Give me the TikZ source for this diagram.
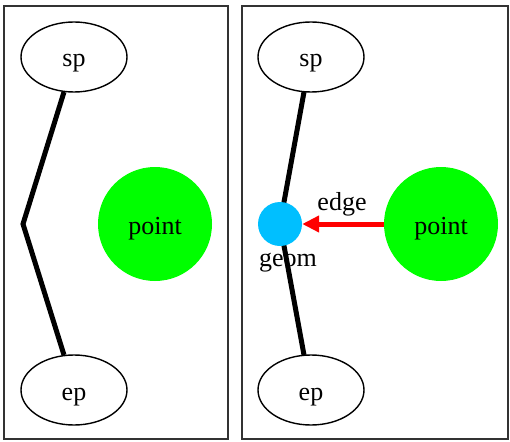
\documentclass[tikz,border=0pt]{standalone}
\usepackage{fontspec}
\setmainfont{Liberation Serif}
\usetikzlibrary{arrows.meta,shapes.geometric}
\definecolor{ptgreen}{RGB}{0,255,0}
\definecolor{geomblue}{RGB}{0,191,255}
\newcommand{\lowtxt}[1]{\raisebox{-10pt}[0pt][0pt]{#1}}
\begin{document}
\begin{tikzpicture}[x=1pt,y=-1pt,
  panel/.style={draw=black!80,line width=1.5pt},
  endpt/.style={draw,ellipse,line width=1.4pt,minimum width=106pt,minimum height=70pt,inner sep=0pt},
  pointnode/.style={circle,fill=ptgreen,minimum size=114pt,inner sep=0pt},
  geomnode/.style={circle,fill=geomblue,minimum size=44pt,inner sep=0pt},
  seg/.style={line width=5pt},
  lbl/.style={anchor=base,inner sep=0pt},
  every node/.append style={font=\fontsize{26}{30}\selectfont}]
\useasboundingbox (0,0) rectangle (510,441);
\draw[panel] (4,6) rectangle (228,439);
\draw[panel] (242,6) rectangle (508,439);
% left panel
\node[endpt] (spL) at (74,57) {\lowtxt{sp}};
\node[endpt] (epL) at (74,390) {\lowtxt{ep}};
\coordinate (bendL) at (23,224);
\node[pointnode] (ptL) at (155,224) {\lowtxt{point}};
\draw[seg,line join=miter] (64,92) -- (bendL) -- (64,355);
% right panel
\node[endpt] (spR) at (311,57) {\lowtxt{sp}};
\node[endpt] (epR) at (311,390) {\lowtxt{ep}};
\coordinate (bendR) at (280,224);
\draw[seg] (304,92) -- (bendR) -- (304,355);
\node[geomnode] (geom) at (bendR) {};
\node[lbl] (geomlbl) at (288,266) {geom};
\node[pointnode] (ptR) at (441,224) {\lowtxt{point}};
\draw[red,line width=5pt,-{Triangle[length=17pt,width=16pt]}] (ptR.west) -- (geom.east);
\node[lbl] (edgelbl) at (342,210) {edge};
\end{tikzpicture}
\end{document}
